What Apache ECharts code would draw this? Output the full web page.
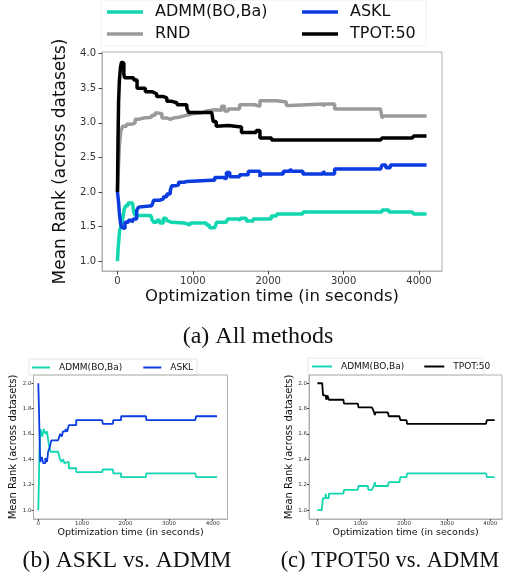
<!DOCTYPE html>
<html><head><meta charset="utf-8">
<script src="https://cdn.jsdelivr.net/npm/echarts@6/dist/echarts.min.js"></script>
<style>html,body{margin:0;padding:0;background:#fff}#c{width:511px;height:580px}</style>
</head><body><div id="c"></div>
<script>
// ---- data ----
const names = ['ADMM(BO,Ba)', 'RND', 'ASKL', 'TPOT:50'];
const xTicks = [0, 1000, 2000, 3000, 4000];
const yTicksMain = [1.0, 1.5, 2.0, 2.5, 3.0, 3.5, 4.0];
const yTicksSub = [1.0, 1.2, 1.4, 1.6, 1.8, 2.0];

// (a) all methods: [seconds, mean rank]
const aADMM = [[0,1.0],[10,1.2],[20,1.33],[30,1.45],[45,1.5],[60,1.55],[75,1.65],[90,1.75],[110,1.8],[140,1.84],[200,1.84],[215,1.71],[235,1.66],[440,1.66],[460,1.6],[480,1.56],[520,1.59],[560,1.55],[610,1.62],[640,1.64],[665,1.58],[690,1.56],[720,1.55],[880,1.54],[920,1.52],[965,1.55],[1140,1.55],[1180,1.52],[1220,1.48],[1290,1.5],[1315,1.56],[1440,1.55],[1465,1.61],[1600,1.59],[1630,1.62],[1710,1.58],[1800,1.61],[2040,1.65],[2110,1.68],[2460,1.71],[3480,1.71],[3510,1.74],[3600,1.71],[3910,1.71],[3930,1.68],[4100,1.68]];
const aRND = [[0,2.0],[15,2.4],[25,2.65],[35,2.78],[45,2.88],[70,2.95],[120,2.98],[190,3.0],[235,3.05],[280,3.07],[345,3.08],[455,3.11],[500,3.14],[545,3.13],[590,3.07],[655,3.05],[700,3.07],[745,3.08],[810,3.09],[855,3.11],[920,3.13],[990,3.14],[1100,3.15],[1140,3.17],[1180,3.19],[1300,3.18],[1380,3.24],[1420,3.17],[1470,3.2],[1620,3.26],[1820,3.24],[1890,3.32],[2110,3.3],[2240,3.25],[2290,3.27],[2730,3.24],[2750,3.27],[2880,3.2],[3490,3.2],[3510,3.07],[3530,3.1],[4100,3.1]];
const aASKL = [[0,2.0],[15,1.85],[25,1.7],[40,1.55],[55,1.49],[70,1.47],[100,1.56],[145,1.59],[190,1.56],[215,1.61],[255,1.73],[280,1.78],[300,1.8],[455,1.8],[480,1.88],[565,1.9],[610,1.93],[655,1.97],[700,2.02],[720,2.09],[765,2.1],[810,2.14],[880,2.15],[920,2.17],[1250,2.17],[1290,2.21],[1400,2.19],[1445,2.28],[1490,2.22],[1620,2.25],[1735,2.3],[1890,2.22],[1910,2.26],[2200,2.3],[2290,2.33],[2310,2.3],[2460,2.26],[2730,2.3],[2750,2.26],[2880,2.33],[3490,2.33],[3510,2.39],[3560,2.35],[3620,2.39],[4100,2.39]];
const aTPOT = [[0,2.0],[8,2.8],[15,3.3],[25,3.6],[40,3.8],[55,3.88],[75,3.86],[85,3.7],[95,3.65],[215,3.62],[260,3.5],[370,3.45],[455,3.43],[480,3.42],[520,3.38],[610,3.36],[655,3.31],[720,3.29],[790,3.26],[920,3.21],[945,3.15],[1250,3.15],[1270,3.02],[1310,2.95],[1330,2.96],[1470,2.94],[1645,2.86],[1840,2.89],[1890,2.78],[2045,2.75],[3490,2.75],[3510,2.78],[3910,2.78],[3930,2.81],[4100,2.81]];

// (b) ASKL vs ADMM
const bASKL = [[0,2.0],[15,1.8],[30,1.56],[45,1.38],[80,1.42],[110,1.37],[160,1.41],[200,1.38],[225,1.46],[265,1.5],[300,1.55],[455,1.55],[500,1.6],[540,1.58],[565,1.62],[625,1.64],[665,1.62],[700,1.67],[870,1.71],[1465,1.71],[1480,1.68],[1710,1.68],[1720,1.71],[1900,1.74],[2470,1.74],[2480,1.71],[3600,1.71],[3620,1.74],[4100,1.74]];
const bADMM = [[0,1.0],[15,1.25],[25,1.46],[50,1.64],[90,1.58],[125,1.64],[165,1.6],[200,1.62],[240,1.52],[280,1.46],[455,1.46],[490,1.41],[530,1.38],[570,1.4],[600,1.37],[645,1.38],[700,1.33],[870,1.3],[1465,1.3],[1480,1.32],[1710,1.32],[1720,1.29],[1900,1.26],[2470,1.26],[2480,1.29],[3600,1.29],[3620,1.26],[4100,1.26]];

// (c) TPOT50 vs ADMM
const cTPOT = [[0,2.0],[110,2.0],[130,1.905],[185,1.9],[210,1.87],[230,1.905],[265,1.87],[600,1.87],[615,1.84],[935,1.84],[950,1.81],[1260,1.81],[1300,1.78],[1330,1.75],[1345,1.77],[1630,1.77],[1650,1.74],[1895,1.74],[1920,1.71],[2060,1.71],[2075,1.68],[3900,1.68],[3920,1.71],[4100,1.71]];
const cADMM = [[0,1.0],[100,1.0],[115,1.05],[130,1.095],[190,1.13],[210,1.095],[265,1.13],[600,1.13],[615,1.16],[935,1.16],[950,1.19],[1165,1.19],[1180,1.16],[1260,1.16],[1300,1.19],[1330,1.22],[1345,1.19],[1630,1.19],[1650,1.22],[1895,1.22],[1920,1.26],[2060,1.26],[2075,1.29],[3900,1.29],[3920,1.26],[4100,1.26]];

// ---- style ----
const COL = {'ADMM(BO,Ba)':'#12d6b0', 'RND':'#9a9a9a', 'ASKL':'#0a3ce0', 'TPOT:50':'#000000'};
const FONT = 'DejaVu Sans';
const SPINE = '#b0b0b0';

function xAxis(gi, min, max, fs, nameFs, nameGap, tickLen, margin) {
  return {type:'value', gridIndex:gi, min:min, max:max,
    name:'Optimization time (in seconds)', nameLocation:'middle', nameGap:nameGap,
    nameTextStyle:{fontFamily:FONT, fontSize:nameFs, color:'#111'},
    axisLine:{show:true, onZero:false, lineStyle:{color:SPINE, width:1}},
    axisTick:{show:true, length:tickLen, customValues:xTicks, lineStyle:{color:'#444'}},
    axisLabel:{customValues:xTicks, fontFamily:FONT, fontSize:fs, color:'#333', margin:margin, formatter:v=>String(Math.round(v))},
    splitLine:{show:false}};
}
function yAxis(gi, min, max, ticks, fs, nameFs, nameGap, tickLen, margin) {
  return {type:'value', gridIndex:gi, min:min, max:max,
    name:'Mean Rank (across datasets)', nameLocation:'middle', nameGap:nameGap,
    nameTextStyle:{fontFamily:FONT, fontSize:nameFs, color:'#111'},
    axisLine:{show:true, onZero:false, lineStyle:{color:SPINE, width:1}},
    axisTick:{show:true, length:tickLen, customValues:ticks, lineStyle:{color:'#444'}},
    axisLabel:{customValues:ticks, fontFamily:FONT, fontSize:fs, color:'#333', margin:margin, formatter:v=>v.toFixed(1)},
    splitLine:{show:false}};
}
function line(name, data, gi, w) {
  return {type:'line', name:name, xAxisIndex:gi, yAxisIndex:gi, data:data, step:'end',
    showSymbol:false, symbol:'none', animation:false,
    lineStyle:{color:COL[name], width:w}, itemStyle:{color:COL[name]}};
}
function legend(data, left, top, orient, fs, iw, ih, gap, textPad) {
  return {data:data, left:left, top:top, orient:orient, padding:0, itemGap:gap,
    itemWidth:iw, itemHeight:ih, icon:'rect',
    textStyle:{fontFamily:FONT, fontSize:fs, lineHeight:fs, color:'#111', padding:[0,0,0,textPad]}};
}

const option = {
  animation:false,
  backgroundColor:'#fff',
  grid:[
    {left:102, top:52, width:340, height:219, show:true, borderColor:SPINE, borderWidth:1, backgroundColor:'transparent'},
    {left:33.5, top:375, width:194, height:144, show:true, borderColor:SPINE, borderWidth:1, backgroundColor:'transparent'},
    {left:309, top:375, width:193, height:144, show:true, borderColor:SPINE, borderWidth:1, backgroundColor:'transparent'}
  ],
  xAxis:[
    xAxis(0, -205, 4305, 10, 16.5, 17, 3.5, 5),
    xAxis(1, -110, 4340, 5.5, 9.5, 7, 2, 2),
    xAxis(2, -195, 4270, 5.5, 9.5, 7, 2, 2)
  ],
  yAxis:[
    yAxis(0, 0.856, 4.024, yTicksMain, 10, 17, 24, 3.5, 6),
    yAxis(1, 0.93, 2.065, yTicksSub, 5.5, 10, 14, 2, 2),
    yAxis(2, 0.93, 2.065, yTicksSub, 5.5, 10, 11, 2, 2)
  ],
  legend:[
    legend(['ADMM(BO,Ba)','RND'], 107, 4, 'vertical', 16, 36, 3.5, 6, 7),
    legend(['ASKL','TPOT:50'], 302, 4, 'vertical', 16, 36, 3.5, 6, 7),
    legend(['ADMM(BO,Ba)','ASKL'], 32, 363, 'horizontal', 9, 18, 2, 21, 4),
    legend(['ADMM(BO,Ba)','TPOT:50'], 312, 362, 'horizontal', 9, 20, 2, 20, 4)
  ],
  graphic:[
    {type:'rect', shape:{x:101, y:0, width:325, height:46}, style:{fill:'#fff', stroke:'#f0f0f0', lineWidth:1}, z:-10},
    {type:'rect', shape:{x:29, y:359, width:168, height:16}, style:{fill:'#fff', stroke:'#e6e6e6', lineWidth:1}, z:-10},
    {type:'rect', shape:{x:308, y:358, width:175, height:17}, style:{fill:'#fff', stroke:'#e6e6e6', lineWidth:1}, z:-10},
    {type:'text', x:258, y:337, style:{text:'(a) All methods', font:'24px "Liberation Serif"', fill:'#111', textAlign:'center', textVerticalAlign:'middle'}},
    {type:'text', x:127, y:561, style:{text:'(b) ASKL vs. ADMM', font:'23.5px "Liberation Serif"', fill:'#111', textAlign:'center', textVerticalAlign:'middle'}},
    {type:'text', x:390, y:561, style:{text:'(c) TPOT50 vs. ADMM', font:'22.5px "Liberation Serif"', fill:'#111', textAlign:'center', textVerticalAlign:'middle'}}
  ],
  series:[
    line('ADMM(BO,Ba)', aADMM, 0, 3.5),
    line('RND', aRND, 0, 3.5),
    line('ASKL', aASKL, 0, 3.5),
    line('TPOT:50', aTPOT, 0, 3.5),
    line('ADMM(BO,Ba)', bADMM, 1, 1.8),
    line('ASKL', bASKL, 1, 1.8),
    line('ADMM(BO,Ba)', cADMM, 2, 1.8),
    line('TPOT:50', cTPOT, 2, 1.8)
  ]
};
const chart = echarts.init(document.getElementById('c'), null, {renderer:'canvas'});
chart.setOption(option);
</script></body></html>
